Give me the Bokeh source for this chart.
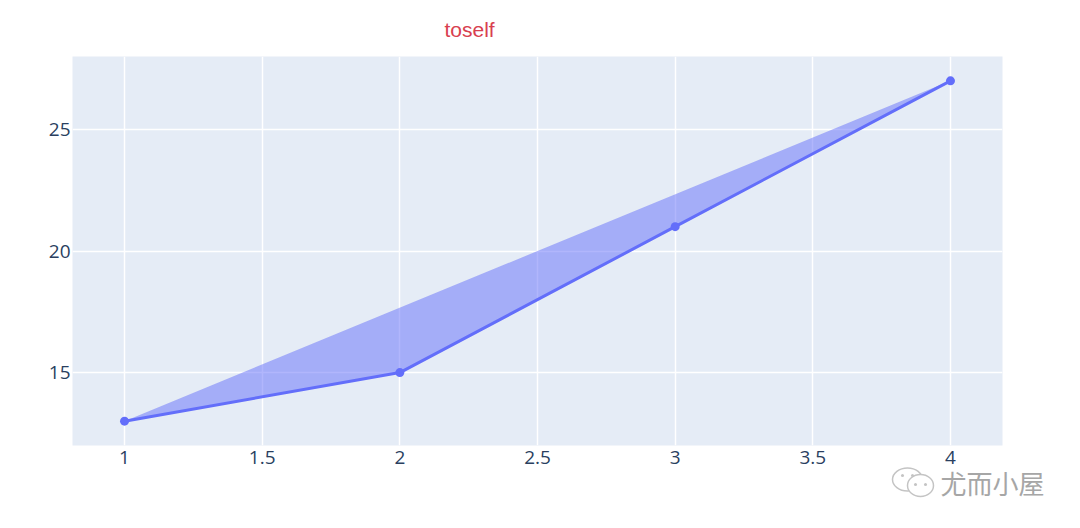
from bokeh.plotting import figure
from bokeh.layouts import column
from bokeh.models import Range1d, FixedTicker
from bokeh.core.properties import value
from bokeh.embed import file_html
from bokeh.resources import INLINE

x_values = [1, 2, 3, 4]
y_values = [13, 15, 21, 27]
x_ticks = [1, 1.5, 2, 2.5, 3, 3.5, 4]
x_tick_labels = ["1", "1.5", "2", "2.5", "3", "3.5", "4"]
y_ticks = [15, 20, 25]
y_tick_labels = ["15", "20", "25"]
title_text = "toself"
watermark_text = "尤而小屋"

TICK = "#2a3f5f"
TRACE = "#636efa"

p = figure(width=1072, height=520, output_backend="svg", toolbar_location=None,
           x_range=Range1d(0.811, 4.189), y_range=Range1d(12, 28),
           min_border_left=72, min_border_right=70, min_border_top=56, min_border_bottom=75,
           background_fill_color="#e5ecf6", border_fill_color="white", outline_line_color=None,
           title=title_text, frame_align=False)
p.title.align = "left"
p.title.offset = 372
p.title.standoff = 31
p.title.text_line_height = 1.0
p.title.text_color = "#d8404f"
p.title.text_font = "Liberation Sans"
p.title.text_font_size = "21px"
p.title.text_font_style = "normal"

p.xaxis.ticker = FixedTicker(ticks=x_ticks)
p.yaxis.ticker = FixedTicker(ticks=y_ticks)
p.xaxis.major_label_overrides = dict(zip(x_ticks, x_tick_labels))
p.yaxis.major_label_overrides = dict(zip(y_ticks, y_tick_labels))
for ax in (p.xaxis[0], p.yaxis[0]):
    ax.axis_line_color = None
    ax.major_tick_line_color = None
    ax.minor_tick_line_color = None
    ax.major_tick_out = 0
    ax.major_tick_in = 0
    ax.minor_tick_out = 0
    ax.minor_tick_in = 0
    ax.major_label_text_color = TICK
    ax.major_label_text_font = "Open Sans"
    ax.major_label_text_font_size = "19px"
p.xaxis.major_label_standoff = 5
p.yaxis.major_label_standoff = 2
p.xgrid.ticker = FixedTicker(ticks=x_ticks)
p.ygrid.ticker = FixedTicker(ticks=y_ticks)
p.grid.grid_line_color = "white"
p.grid.grid_line_width = 1.5

p.patch(x_values, y_values, fill_color=TRACE, fill_alpha=0.5, line_color=None)
p.line(x_values, y_values, line_color=TRACE, line_width=3)
p.scatter(x_values, y_values, size=9, fill_color=TRACE, line_color=TRACE, line_width=0)

# Watermark: a small transparent figure laid over the page's lower right corner
w = figure(width=170, height=40, output_backend="svg", toolbar_location=None,
           x_range=Range1d(0, 170), y_range=Range1d(40, 0),
           x_axis_location=None, y_axis_location=None,
           min_border=0, min_border_left=0, min_border_right=0, min_border_top=0, min_border_bottom=0,
           background_fill_color=None, border_fill_color=None,
           outline_line_color=None, margin=(-58, 0, 0, 885), frame_align=False)
w.grid.visible = False
GREY = "#c4c4c4"
w.ellipse([22], [17], width=30, height=23, fill_color="white", line_color=GREY, line_width=1.5)
w.ellipse([35], [23], width=26, height=22, fill_color="white", line_color=GREY, line_width=1.5)
w.scatter([17, 27, 30, 40], [13, 13, 22, 22], size=3, fill_color=GREY, line_color=None)
w.text([107], [20], text=[watermark_text], text_color="#a6a6a6",
       text_font=value("Noto Sans CJK SC"), text_font_size="26px",
       text_align="center", text_baseline="middle")

open("out.html", "w").write(file_html(column(p, w, spacing=0), INLINE))
